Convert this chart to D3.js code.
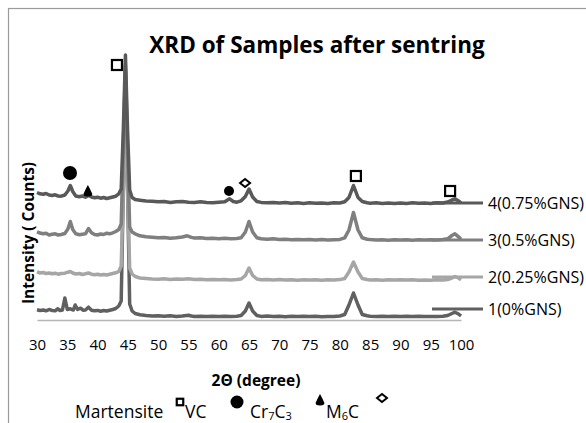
<!DOCTYPE html>
<html><head><meta charset="utf-8">
<script src="https://cdn.jsdelivr.net/npm/d3@7"></script>
<style>
html,body{margin:0;padding:0;background:#fff;}
svg{display:block;font-family:"Open Sans",sans-serif;}
</style></head>
<body><svg id="c" width="586" height="423"></svg>
<script>
// ---- data (2θ in degrees, intensity in counts) ----
const tickLabels = [30,35,40,45,50,55,60,65,70,75,80,85,90,95,100];
const seriesNames = ["1(0%GNS)","2(0.25%GNS)","3(0.5%GNS)","4(0.75%GNS)"];
const s1 = [[30,102],[30.5,95],[31,100],[31.5,92],[32,105],[32.5,96],[33,92],[33.4,112],[33.8,95],[34.2,100],[34.6,220],[35,105],[35.5,112],[36,100],[36.3,150],[36.7,105],[37.2,118],[37.6,98],[38,100],[38.5,128],[39,98],[39.5,92],[40,96],[40.5,88],[41,95],[41.5,90],[42,98],[42.5,105],[43,115],[43.5,140],[43.9,190],[44.25,1300],[44.6,2500],[44.95,1300],[45.3,160],[45.7,90],[46.2,65],[47,52],[48,45],[49,40],[50,42],[51,38],[52,42],[53,36],[54,40],[55,48],[55.5,40],[56,35],[57,38],[58,34],[59,38],[60,35],[61,38],[62,34],[63,38],[63.7,45],[64.4,90],[65,170],[65.6,90],[66.3,45],[67,36],[68,40],[69,35],[70,38],[71,33],[72,37],[73,34],[74,38],[75,35],[76,38],[77,33],[78,36],[79,35],[80,40],[80.8,55],[81.5,150],[82.25,270],[83,150],[83.7,55],[84.5,42],[85,38],[86,35],[87,38],[88,34],[89,37],[90,34],[91,38],[92,35],[93,37],[94,34],[95,36],[96,34],[97,38],[97.8,45],[98.5,65],[99,78],[99.6,60],[100,40]];
const s2 = [[30,482],[30.5,470],[31,475],[31.5,465],[32,470],[32.5,462],[33,468],[33.5,458],[34,465],[34.6,468],[35.1,478],[35.5,485],[35.9,470],[36.4,460],[37,465],[37.5,455],[38,462],[38.5,470],[39,458],[39.5,452],[40,458],[40.5,450],[41,455],[41.5,450],[42,458],[42.5,465],[43,472],[43.5,485],[43.9,540],[44.25,1300],[44.6,2400],[44.95,1300],[45.3,520],[45.7,460],[46.2,435],[47,420],[48,415],[49,410],[50,408],[51,412],[52,405],[53,410],[54,408],[55,412],[56,405],[57,408],[58,402],[59,406],[60,402],[61,405],[62,400],[63,404],[63.7,410],[64.4,445],[65,520],[65.6,445],[66.3,410],[67,402],[68,405],[69,400],[70,404],[71,400],[72,403],[73,398],[74,402],[75,400],[76,403],[77,398],[78,402],[79,400],[80,404],[80.8,415],[81.5,480],[82.25,580],[83,480],[83.7,415],[84.5,405],[85,400],[86,403],[87,398],[88,402],[89,399],[90,403],[91,400],[92,402],[93,398],[94,401],[95,398],[96,402],[97,400],[97.8,405],[98.5,420],[99,435],[99.6,420],[100,402]];
const s3 = [[30,882],[30.5,870],[31,862],[31.5,868],[32,850],[32.5,858],[33,862],[33.5,850],[34,855],[34.6,865],[35.1,910],[35.5,985],[35.9,905],[36.4,862],[37,852],[37.5,858],[38,862],[38.5,915],[39,872],[39.5,855],[40,850],[40.5,860],[41,855],[41.5,868],[42,862],[42.5,872],[43,885],[43.5,905],[43.9,960],[44.25,1700],[44.6,2550],[44.95,1700],[45.3,930],[45.7,880],[46.2,862],[47,842],[48,832],[49,828],[50,822],[51,826],[52,818],[53,822],[54,830],[54.8,842],[55.5,826],[56,820],[57,822],[58,815],[59,818],[60,812],[61,818],[62,812],[63,815],[63.7,822],[64.4,880],[65,985],[65.6,880],[66.3,822],[67,812],[68,808],[69,812],[70,805],[71,808],[72,802],[73,806],[74,802],[75,805],[76,800],[77,804],[78,800],[79,803],[80,806],[80.8,822],[81.5,900],[82.25,1075],[83,900],[83.7,822],[84.5,808],[85,804],[86,800],[87,803],[88,798],[89,802],[90,800],[91,803],[92,798],[93,802],[94,800],[95,803],[96,800],[97,804],[97.8,812],[98.5,845],[99,862],[99.6,832],[100,808]];
const s4 = [[30,1275],[30.5,1262],[31,1258],[31.5,1265],[32,1250],[32.5,1245],[33,1252],[33.5,1240],[34,1238],[34.6,1250],[35.1,1290],[35.5,1345],[35.9,1285],[36.4,1240],[37,1232],[37.5,1240],[38,1228],[38.5,1245],[39,1230],[39.5,1222],[40,1228],[40.5,1218],[41,1225],[41.5,1215],[42,1222],[42.5,1230],[43,1238],[43.5,1262],[43.9,1310],[44.25,1900],[44.6,2650],[44.95,1900],[45.3,1300],[45.7,1225],[46.2,1205],[47,1198],[48,1190],[49,1188],[50,1182],[51,1186],[52,1176],[53,1182],[54,1186],[55,1178],[56,1175],[57,1182],[58,1174],[59,1172],[60,1178],[61,1182],[61.8,1212],[62.4,1185],[63,1178],[63.7,1192],[64.4,1235],[65,1310],[65.6,1230],[66.3,1185],[67,1176],[68,1172],[69,1175],[70,1170],[71,1174],[72,1168],[73,1172],[74,1166],[75,1172],[76,1168],[77,1170],[78,1165],[79,1172],[80,1170],[80.8,1182],[81.5,1225],[82.25,1345],[83,1225],[83.7,1185],[84.5,1172],[85,1168],[86,1172],[87,1166],[88,1170],[89,1165],[90,1170],[91,1166],[92,1172],[93,1168],[94,1170],[95,1166],[96,1172],[97,1170],[97.8,1180],[98.5,1200],[99,1212],[99.6,1190],[100,1172]];
// phase annotations: [2θ, counts, type]
const annotations = [[43.2,2550,"square"],[35.45,1470,"bigdot"],[38.4,1290,"tri"],[61.7,1290,"dot"],[64.35,1370,"diamond"],[82.65,1440,"square"],[98.2,1290,"square"]];

// ---- drawing ----
const svg = d3.select("#c");
const colors = ["#606060","#a6a6a6","#7f7f7f","#595959"];
const allSeries = [s1,s2,s3,s4];

// chart frame
svg.append("rect").attr("x",8.5).attr("y",8.5).attr("width",620).attr("height",440)
  .attr("fill","#fff").attr("stroke","#9a9a9a").attr("stroke-width",1.2);

const x = d3.scaleLinear().domain([30,100]).range([37,461]);
const y = d3.scaleLinear().domain([0,2700]).range([320,50]);

// title
svg.append("text").attr("x",317).attr("y",53).attr("text-anchor","middle")
  .attr("font-weight","bold").attr("font-size",22.5).attr("fill","#000")
  .text("XRD of Samples after sentring");

// x axis
const xa = svg.append("g").attr("transform","translate(0,320)")
  .call(d3.axisBottom(x).tickValues(tickLabels).tickSize(0).tickPadding(19).tickFormat(d3.format("d")));
xa.select(".domain").attr("stroke","#b5b5b5").attr("stroke-width",1.5);
xa.selectAll("text").attr("font-size",15).attr("font-family","Open Sans, sans-serif").attr("fill","#000");

svg.append("text").attr("x",256).attr("y",386).attr("text-anchor","middle")
  .attr("font-weight","bold").attr("font-size",15.5).text("2Θ (degree)");

svg.append("text").attr("transform","translate(34,233) rotate(-90)").attr("text-anchor","middle")
  .attr("font-weight","bold").attr("font-size",15.5).text("Intensity ( Counts)");

// series lines
const line = d3.line().x(d=>x(d[0])).y(d=>y(d[1]));
allSeries.forEach((s,i)=>{
  svg.append("path").datum(s).attr("d",line).attr("fill","none")
    .attr("stroke",colors[i]).attr("stroke-width",3.5).attr("stroke-linejoin","round");
});

// right legend
const legY = {"4(0.75%GNS)":203,"3(0.5%GNS)":240,"2(0.25%GNS)":277,"1(0%GNS)":309};
seriesNames.forEach((n,i)=>{
  const yy = legY[n];
  svg.append("line").attr("x1",432).attr("x2",483).attr("y1",yy).attr("y2",yy)
    .attr("stroke",colors[i]).attr("stroke-width",3);
  svg.append("text").attr("x",488).attr("y",yy).attr("dy","0.35em")
    .attr("font-size",16).attr("fill","#000").text(n);
});

// annotation markers
function drawMarker(g, type, cx, cy, big){
  if(type==="square"){
    const s = big?10:6.5;
    g.append("rect").attr("x",cx-s/2).attr("y",cy-s/2).attr("width",s).attr("height",s)
      .attr("fill","#fff").attr("stroke","#000").attr("stroke-width",2.2);
  } else if(type==="bigdot"){
    g.append("circle").attr("cx",cx).attr("cy",cy).attr("r",big?7:6.5).attr("fill","#000");
  } else if(type==="dot"){
    g.append("circle").attr("cx",cx).attr("cy",cy).attr("r",5).attr("fill","#000");
  } else if(type==="tri"){
    g.append("path").attr("transform",`translate(${cx},${cy})`)
      .attr("d","M0,-6 Q1.8,-3 4.2,2.5 Q5.2,5.5 0,5.5 Q-5.2,5.5 -4.2,2.5 Q-1.8,-3 0,-6Z").attr("fill","#000");
  } else if(type==="diamond"){
    g.append("path").attr("transform",`translate(${cx},${cy})`)
      .attr("d","M0,-4 L5,0 L0,4 L-5,0Z").attr("fill","#fff").attr("stroke","#000").attr("stroke-width",2);
  }
}
const ag = svg.append("g");
annotations.forEach(a=>drawMarker(ag,a[2],x(a[0]),y(a[1]),true));

// bottom legend
const bl = svg.append("g").attr("font-size",17.5).attr("fill","#000");
const by = 418;
bl.append("text").attr("x",75).attr("y",by).text("Martensite");
drawMarker(bl,"square",180,402,false);
bl.append("text").attr("x",185).attr("y",by).text("VC");
drawMarker(bl,"bigdot",237,402,false);
const t3 = bl.append("text").attr("x",250).attr("y",by);
t3.append("tspan").text("Cr");
t3.append("tspan").attr("font-size",11).attr("dy",2).text("7");
t3.append("tspan").attr("dy",-2).text("C");
t3.append("tspan").attr("font-size",11).attr("dy",2).text("3");
drawMarker(bl,"tri",320,400,false);
const t4 = bl.append("text").attr("x",326).attr("y",by);
t4.append("tspan").text("M");
t4.append("tspan").attr("font-size",11).attr("dy",2).text("6");
t4.append("tspan").attr("dy",-2).text("C");
drawMarker(bl,"diamond",382,398,false);
</script>
</body></html>
